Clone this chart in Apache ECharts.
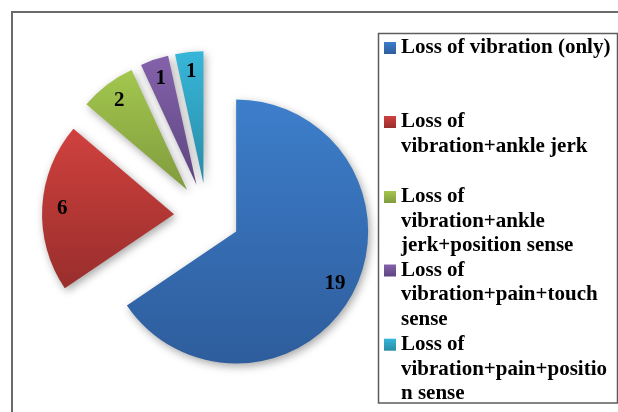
<!DOCTYPE html>
<html>
<head>
<meta charset="utf-8">
<script src="https://cdn.jsdelivr.net/npm/echarts@6/dist/echarts.min.js"></script>
<style>
  html, body { margin: 0; padding: 0; background: #fff; }
  #chart { width: 618px; height: 412px; }
</style>
</head>
<body>
<div id="chart"></div>
<script>
// data
var categories = [
  "Loss of vibration (only)",
  "Loss of vibration+ankle jerk",
  "Loss of vibration+ankle jerk+position sense",
  "Loss of vibration+pain+touch sense",
  "Loss of vibration+pain+position sense"
];
var counts = [19, 6, 2, 1, 1];
// how the legend wraps each name
var legendLines = [
  ["Loss of vibration (only)"],
  ["Loss of", "vibration+ankle jerk"],
  ["Loss of", "vibration+ankle", "jerk+position sense"],
  ["Loss of", "vibration+pain+touch", "sense"],
  ["Loss of", "vibration+pain+positio", "n sense"]
];

var topColors = ["#3d7ecb", "#d0413e", "#a3c74e", "#8462ab", "#37b6d9"];
var bottomColors = ["#2e5d9c", "#982e2c", "#809b3e", "#5d4680", "#2a8ca6"];
var legendCenters = [48, 122, 197, 270.5, 344.7];
var lineH = 24.5;
var serif = "'Times New Roman', 'Liberation Serif', serif";

var chartDom = document.getElementById("chart");
var myChart = echarts.init(chartDom);
var option;

var grad = function (i) {
  return {
    type: "linear", x: 0, y: 0, x2: 0, y2: 1,
    colorStops: [
      { offset: 0, color: topColors[i] },
      { offset: 1, color: bottomColors[i] }
    ]
  };
};

var pieData = categories.map(function (name, i) {
  return {
    name: name,
    value: counts[i],
    selected: true,
    itemStyle: { color: grad(i) },
    select: { itemStyle: { color: grad(i) } }
  };
});

var labelData = categories.map(function (name, i) {
  return { name: name, value: counts[i], selected: true };
});

var legends = categories.map(function (name, i) {
  var n = legendLines[i].length;
  return {
    data: [name],
    left: 384,
    top: legendCenters[i] - (2 * n - 1) * lineH / 2,
    padding: 0,
    icon: "rect",
    itemWidth: 12,
    itemHeight: 12,
    selectedMode: false,
    formatter: function () {
      var pre = [];
      for (var k = 1; k < n; k++) pre.push("");
      return pre.concat(legendLines[i]).join("\n");
    },
    textStyle: {
      color: "#000",
      fontFamily: serif,
      fontWeight: "bold",
      fontSize: 21,
      lineHeight: lineH,
      padding: [0, 0, 0, 0]
    },
    itemStyle: { borderWidth: 0 }
  };
});

option = {
  backgroundColor: "#fff",
  animation: false,
  legend: legends,
  graphic: [
    {
      type: "rect",
      shape: { x: 12, y: 12, width: 700, height: 500 },
      style: { fill: null, stroke: "#6a6a6a", lineWidth: 2 },
      silent: true
    },
    {
      type: "rect",
      shape: { x: 378.5, y: 33.5, width: 239, height: 369.5 },
      style: { fill: null, stroke: "#5c5c5c", lineWidth: 1.5 },
      silent: true
    }
  ],
  series: [
    {
      name: "pie",
      type: "pie",
      center: [207, 216],
      radius: [0, 132],
      startAngle: 90,
      clockwise: true,
      selectedMode: "multiple",
      selectedOffset: 33,
      avoidLabelOverlap: false,
      label: { show: false },
      labelLine: { show: false },
      itemStyle: {
        borderWidth: 0,
        shadowBlur: 8,
        shadowOffsetX: 2,
        shadowOffsetY: 3,
        shadowColor: "rgba(0,0,0,0.35)"
      },
      emphasis: { disabled: true },
      data: pieData
    },
    {
      name: "labels",
      type: "pie",
      center: [207, 216],
      radius: [86, 132],
      startAngle: 90,
      clockwise: true,
      selectedMode: "multiple",
      selectedOffset: 33,
      silent: true,
      avoidLabelOverlap: false,
      itemStyle: { color: "rgba(0,0,0,0)", borderWidth: 0 },
      select: { itemStyle: { color: "rgba(0,0,0,0)", borderWidth: 0 } },
      label: {
        show: true,
        position: "inside",
        formatter: "{c}",
        color: "#000",
        fontFamily: serif,
        fontWeight: "bold",
        fontSize: 21
      },
      labelLine: { show: false },
      emphasis: { disabled: true },
      data: labelData
    }
  ]
};

option && myChart.setOption(option);
</script>
</body>
</html>
